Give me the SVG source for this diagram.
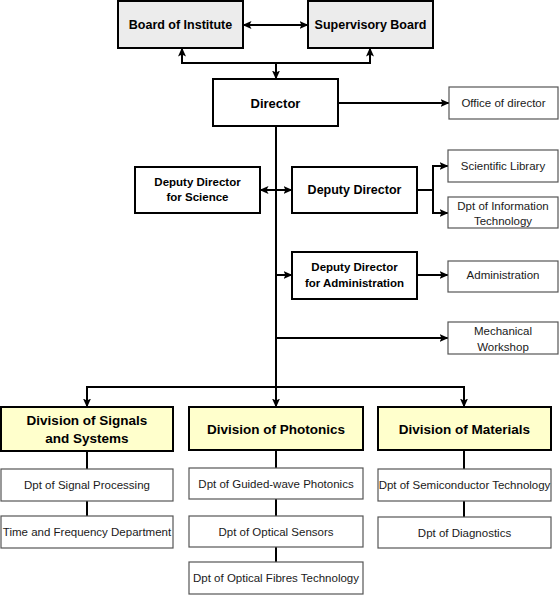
<svg xmlns="http://www.w3.org/2000/svg" width="560" height="595" viewBox="0 0 560 595">
<style>
.main{fill:#ffffff;stroke:#000;stroke-width:2}
.board{fill:#ececec;stroke:#000;stroke-width:2}
.div{fill:#ffffcc;stroke:#000;stroke-width:2}
.sub{fill:#ffffff;stroke:#555555;stroke-width:1.2}
.b{font-family:"Liberation Sans",Arial,sans-serif;font-weight:bold;fill:#000;text-anchor:middle;dominant-baseline:central}
.r{font-family:"Liberation Sans",Arial,sans-serif;font-size:11.5px;fill:#1a1a1a;text-anchor:middle;dominant-baseline:central}
.c{fill:none;stroke:#000;stroke-width:2}
</style>
<defs>
<marker id="ah" viewBox="0 0 9 8" refX="8.5" refY="4" markerWidth="9" markerHeight="8" markerUnits="userSpaceOnUse" orient="auto-start-reverse">
<path d="M0,0 L9,4 L0,8 L2,4 z" fill="#000"/>
</marker>
</defs>
<rect width="560" height="595" fill="#fff"/>
<g id="connectors">
<path class="c" d="M243,25 H308" marker-start="url(#ah)" marker-end="url(#ah)"/>
<path class="c" d="M276,63 H182 V48" marker-end="url(#ah)"/>
<path class="c" d="M276,63 H370 V48" marker-end="url(#ah)"/>
<path class="c" d="M276,63 V79" marker-end="url(#ah)"/>
<path class="c" d="M338,103 H449" marker-end="url(#ah)"/>
<path class="c" d="M276,126 V387"/>
<path class="c" d="M276,387 H87 V407" marker-end="url(#ah)"/>
<path class="c" d="M276,387 H464 V407" marker-end="url(#ah)"/>
<path class="c" d="M276,387 V407" marker-end="url(#ah)"/>
<path class="c" d="M260,190 H292" marker-start="url(#ah)" marker-end="url(#ah)"/>
<path class="c" d="M417,190 H433 V166 H448" marker-end="url(#ah)"/>
<path class="c" d="M433,190 V213 H448" marker-end="url(#ah)"/>
<path class="c" d="M276,275 H292" marker-end="url(#ah)"/>
<path class="c" d="M417,275 H448" marker-end="url(#ah)"/>
<path class="c" d="M276,338 H448" marker-end="url(#ah)"/>
<path class="c" d="M87,451 V469 M87,501 V516"/>
<path class="c" d="M276,450 V468 M276,499 V516 M276,547 V562"/>
<path class="c" d="M464,450 V469 M464,501 V517"/>
</g>
<g id="board-of-institute">
<rect class="board" x="118" y="1" width="125" height="47"/>
<text class="b" x="180.5" y="25" font-size="12.5">Board of Institute</text>
</g>
<g id="supervisory-board">
<rect class="board" x="308" y="1" width="125" height="47"/>
<text class="b" x="370.5" y="25" font-size="12.5">Supervisory Board</text>
</g>
<g id="director">
<rect class="main" x="213" y="79" width="125" height="47"/>
<text class="b" x="275.5" y="103" font-size="13">Director</text>
</g>
<g id="office-of-director">
<rect class="sub" x="449" y="87" width="109" height="32"/>
<text class="r" x="503.5" y="103">Office of director</text>
</g>
<g id="deputy-director-science">
<rect class="main" x="135" y="167" width="125" height="46"/>
<text class="b" x="197.5" y="182" font-size="11.5">Deputy Director</text>
<text class="b" x="197.5" y="197" font-size="11.5">for Science</text>
</g>
<g id="deputy-director">
<rect class="main" x="292" y="167" width="125" height="46"/>
<text class="b" x="354.5" y="190" font-size="12.5">Deputy Director</text>
</g>
<g id="scientific-library">
<rect class="sub" x="448" y="150" width="110" height="32"/>
<text class="r" x="503" y="166">Scientific Library</text>
</g>
<g id="dpt-information-technology">
<rect class="sub" x="448" y="197" width="110" height="31"/>
<text class="r" x="503" y="205.5">Dpt of Information</text>
<text class="r" x="503" y="220.5">Technology</text>
</g>
<g id="deputy-director-administration">
<rect class="main" x="292" y="252" width="125" height="47"/>
<text class="b" x="354.5" y="267" font-size="11.5">Deputy Director</text>
<text class="b" x="354.5" y="283" font-size="11.5">for Administration</text>
</g>
<g id="administration">
<rect class="sub" x="448" y="261" width="110" height="31"/>
<text class="r" x="503" y="275">Administration</text>
</g>
<g id="mechanical-workshop">
<rect class="sub" x="448" y="322" width="110" height="32"/>
<text class="r" x="503" y="330.5">Mechanical</text>
<text class="r" x="503" y="346.5">Workshop</text>
</g>
<g id="division-signals">
<rect class="div" x="1" y="407" width="172" height="44"/>
<text class="b" x="87" y="420" font-size="13.5">Division of Signals</text>
<text class="b" x="87" y="438" font-size="13.5">and Systems</text>
</g>
<g id="division-photonics">
<rect class="div" x="189" y="407" width="174" height="43"/>
<text class="b" x="276" y="429" font-size="13.5">Division of Photonics</text>
</g>
<g id="division-materials">
<rect class="div" x="378" y="407" width="173" height="43"/>
<text class="b" x="464.5" y="429" font-size="13.5">Division of Materials</text>
</g>
<g id="dpt-signal-processing">
<rect class="sub" x="1" y="469" width="172" height="32"/>
<text class="r" x="87" y="485">Dpt of Signal Processing</text>
</g>
<g id="time-frequency">
<rect class="sub" x="1" y="516" width="172" height="32"/>
<text class="r" x="87" y="532">Time and Frequency Department</text>
</g>
<g id="dpt-guided-wave">
<rect class="sub" x="189" y="468" width="174" height="31"/>
<text class="r" x="276" y="484">Dpt of Guided-wave Photonics</text>
</g>
<g id="dpt-optical-sensors">
<rect class="sub" x="189" y="516" width="174" height="31"/>
<text class="r" x="276" y="532">Dpt of Optical Sensors</text>
</g>
<g id="dpt-optical-fibres">
<rect class="sub" x="189" y="562" width="174" height="32"/>
<text class="r" x="276" y="578">Dpt of Optical Fibres Technology</text>
</g>
<g id="dpt-semiconductor">
<rect class="sub" x="378" y="469" width="173" height="32"/>
<text class="r" x="464.5" y="485">Dpt of Semiconductor Technology</text>
</g>
<g id="dpt-diagnostics">
<rect class="sub" x="378" y="517" width="173" height="31"/>
<text class="r" x="464.5" y="533">Dpt of Diagnostics</text>
</g>
</svg>
